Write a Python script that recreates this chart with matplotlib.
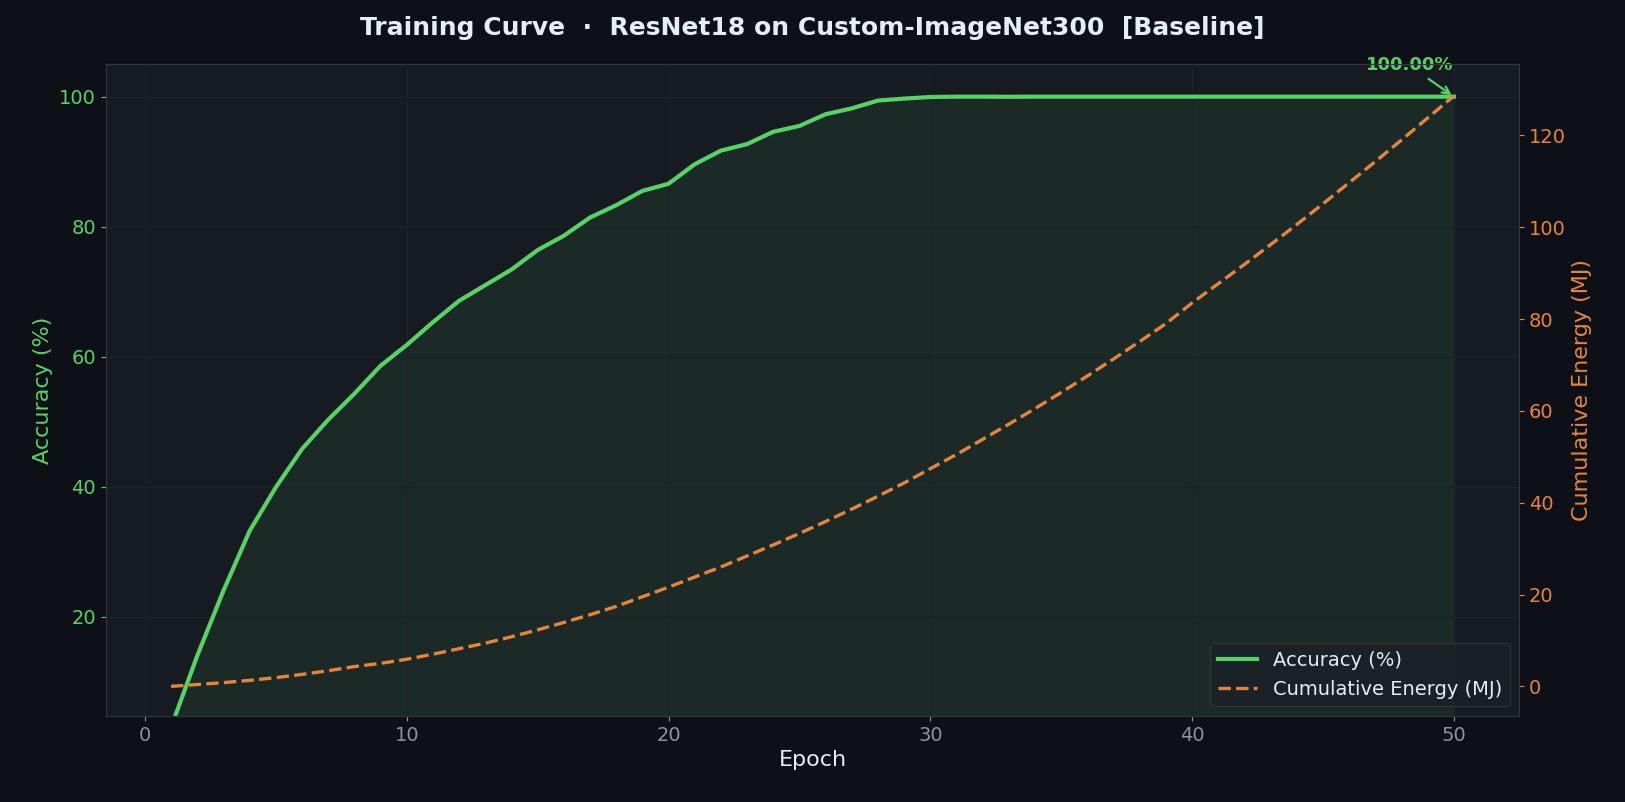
import matplotlib.pyplot as plt

epochs = list(range(1, 51))
accuracy = [3.0, 14.0, 24.0, 33.2, 39.9, 45.8, 50.3, 54.3, 58.6, 61.8,
            65.3, 68.6, 71.0, 73.4, 76.4, 78.6, 81.4, 83.3, 85.5, 86.6,
            89.6, 91.7, 92.7, 94.6, 95.5, 97.3, 98.2, 99.4, 99.7, 99.95,
            100.0, 100.0, 99.98, 100.0, 100.0, 100.0, 100.0, 100.0, 100.0, 100.0,
            100.0, 100.0, 100.0, 100.0, 100.0, 100.0, 100.0, 100.0, 100.0, 100.0]
energy_mj = [0.0, 0.4, 0.8, 1.3, 1.9, 2.6, 3.4, 4.3, 5.0, 5.9,
             7.0, 8.2, 9.4, 10.8, 12.3, 13.9, 15.6, 17.4, 19.5, 21.6,
             23.8, 26.0, 28.4, 30.8, 33.3, 35.9, 38.6, 41.4, 44.3, 47.4,
             50.5, 53.8, 57.1, 60.5, 64.0, 67.6, 71.3, 75.1, 79.0, 83.5,
             87.7, 91.9, 96.2, 100.6, 105.1, 109.7, 114.3, 119.0, 123.8, 128.6]

BG = "#0d1117"
AX_BG = "#161b22"
GREEN = "#56d364"
ORANGE = "#e8843a"
GRID = "#1e232b"

fig, ax = plt.subplots(figsize=(16.25, 8.02), dpi=100)
fig.patch.set_facecolor(BG)
ax.set_facecolor(AX_BG)

l1, = ax.plot(epochs, accuracy, color=GREEN, lw=3.0, label="Accuracy (%)")
ax.fill_between(epochs, accuracy, 0, color=GREEN, alpha=0.08)
ax.set_ylim(4.7, 105)
ax.set_xlim(-1.5, 52.5)
ax.set_xlabel("Epoch", color="#e6edf3", fontsize=16)
ax.set_ylabel("Accuracy (%)", color=GREEN, fontsize=16)
ax.tick_params(axis="y", colors=GREEN, labelsize=14)
ax.tick_params(axis="x", colors="#8b949e", labelsize=14)
ax.grid(True, color=GRID, lw=0.8)
for s in ax.spines.values():
    s.set_color("#30363d")

ax2 = ax.twinx()
l2, = ax2.plot(epochs, energy_mj, color=ORANGE, lw=2.4, ls="--", label="Cumulative Energy (MJ)")
ax2.set_ylim(-6.5, 135.5)
ax2.set_ylabel("Cumulative Energy (MJ)", color=ORANGE, fontsize=16)
ax2.tick_params(axis="y", colors=ORANGE, labelsize=14)
for s in ax2.spines.values():
    s.set_color("#30363d")

ax.annotate("100.00%", xy=(epochs[-1], accuracy[-1]), xytext=(epochs[-1] - 1.7, 104.8),
            color=GREEN, fontsize=13, fontweight="bold", ha="center", va="center",
            arrowprops=dict(arrowstyle="->", color=GREEN, lw=1.6))

leg = ax2.legend([l1, l2], [l1.get_label(), l2.get_label()], loc="lower right",
                 facecolor="#1c2128", edgecolor="#30363d", fontsize=14)
for t in leg.get_texts():
    t.set_color("#e6edf3")

fig.suptitle("Training Curve  ·  ResNet18 on Custom-ImageNet300  [Baseline]",
             color="#e6edf3", fontsize=18, fontweight="bold", y=0.98)
fig.subplots_adjust(left=0.065, right=0.935, top=0.92, bottom=0.107)
fig.savefig("out.png", facecolor=BG)
